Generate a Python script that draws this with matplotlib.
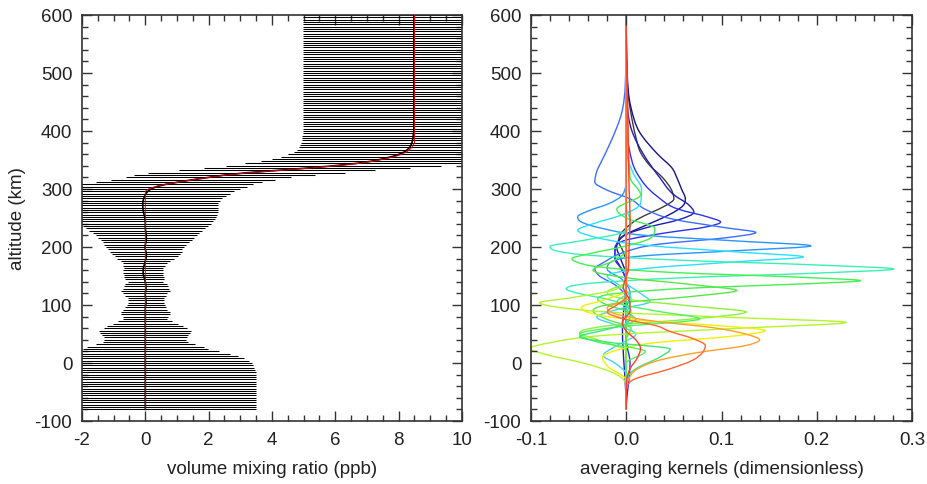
import numpy as np
import matplotlib
matplotlib.use("Agg")
import matplotlib.pyplot as plt
from matplotlib.path import Path
from matplotlib.patches import PathPatch
from matplotlib.ticker import MultipleLocator, FormatStrFormatter

# ---------------- data: left panel (retrieved profile with error bars) ----------------
altitude = np.arange(-80, 601, 4)  # km, retrieval grid

vmr = ([0.0] * 45 +
       [0.01, 0.02, 0.02, 0.01, 0.0, 0.0, 0.01, 0.02, 0.02, 0.01,
        0.0, -0.02, -0.04, -0.06, -0.07, -0.07, -0.06, -0.04, -0.02, 0.0,
        0.02, 0.03, 0.03, 0.02, 0.0, -0.01, 0.0, 0.02, 0.03, 0.03,
        0.03, 0.02, 0.01, 0.0, 0.0, 0.0, 0.0, -0.01, -0.02, -0.04,
        -0.06, -0.07, -0.08, -0.08, -0.08, -0.07, -0.05, -0.02, 0.02, 0.08,
        0.18, 0.35, 0.65, 1.05, 1.5, 2.0, 2.5, 3.2, 4.15, 5.1,
        5.95, 6.65, 7.15, 7.5, 7.8, 8.02, 8.18, 8.28, 8.35, 8.39,
        8.42, 8.44, 8.45, 8.46, 8.47] +
       [8.48] * 51)

vmr_err = ([3.5] * 17 +
           [3.47, 3.44, 3.41, 3.37, 3.28, 3.12, 2.92, 2.68, 2.32, 1.98,
            1.85, 1.56, 1.35, 1.30, 1.32, 1.36, 1.42, 1.45, 1.32, 1.20,
            1.03, 0.85, 0.70, 0.72, 0.77, 0.77, 0.70, 0.64, 0.60, 0.58,
            0.56, 0.57, 0.64, 0.70, 0.77, 0.74, 0.70, 0.66, 0.56, 0.62,
            0.62, 0.61, 0.62, 0.63, 0.62, 0.65, 0.70, 0.78, 0.90, 1.00,
            1.08, 1.13, 1.17, 1.22, 1.29, 1.36, 1.43, 1.51, 1.59, 1.68,
            1.78, 1.88, 1.98, 2.06, 2.13, 2.20, 2.26, 2.31, 2.34, 2.35,
            2.36, 2.37, 2.38, 2.42, 2.48, 2.56, 2.64, 2.73, 2.80, 2.85,
            2.75, 2.62, 2.58, 2.60, 2.85, 3.10, 3.10, 3.25, 3.40, 3.50] +
           [3.5] * 64)

true_alt = [-80, 296, 300, 304, 308, 312, 316, 320, 324, 328, 332, 336, 340,
            344, 348, 352, 356, 360, 364, 368, 372, 376, 380, 600]
true_vmr = [0.0, 0.0, 0.1, 0.3, 0.62, 1.05, 1.5, 2.0, 2.55, 3.25, 4.2, 5.15, 6.0,
            6.7, 7.2, 7.58, 7.88, 8.1, 8.25, 8.35, 8.42, 8.46, 8.5, 8.5]

# ---------------- data: right panel (averaging kernels) ----------------
kernel_colors = ["#3c3c3c", "#14148c", "#1e1eb9", "#2d32f0", "#3c6eff", "#2896ff",
                 "#28e1ff", "#46d2ff", "#3cf0b4", "#46f050", "#5ae646", "#8cf03c",
                 "#b4f528", "#f0f000", "#50f064", "#3ce678", "#ffa028", "#ff6432",
                 "#ff3c28"]

kernel_alts = [
    [-80, 170, 195, 210, 222, 236, 248, 260, 272, 283, 300, 320, 340, 363, 390, 430, 480, 600],
    [-80, 150, 180, 200, 220, 237, 250, 262, 272, 283, 300, 320, 334, 360, 398, 440, 500, 600],
    [-80, 60, 140, 165, 185, 205, 222, 235, 247, 260, 272, 290, 320, 360, 400, 450, 600],
    [-80, 0, 40, 130, 160, 180, 198, 212, 224, 235, 243, 252, 265, 288, 328, 370, 420, 600],
    [-80, 110, 135, 150, 162, 175, 190, 205, 216, 225, 233, 248, 265, 283, 298, 312, 330, 351, 386, 430, 480, 600],
    [-80, 90, 120, 145, 162, 175, 185, 194, 202, 210, 220, 232, 244, 252, 262, 275, 290, 320, 600],
    [-80, 80, 110, 135, 150, 163, 175, 183, 191, 203, 218, 229, 240, 255, 275, 300, 325, 360, 600],
    [-80, -20, 0, 13, 30, 50, 65, 79, 92, 106, 120, 140, 170, 600],
    [-80, 60, 90, 110, 120, 128, 137, 147, 155, 162, 169, 177, 186, 194, 201, 210, 222, 240, 270, 600],
    [-80, 60, 85, 100, 110, 120, 130, 136, 142, 148, 156, 166, 174, 180, 188, 200, 215, 232, 250, 265, 290, 320, 600],
    [-80, 40, 60, 75, 90, 103, 115, 125, 135, 147, 160, 175, 195, 600],
    [-80, 20, 40, 52, 64, 76, 88, 98, 110, 122, 140, 600],
    [-80, -40, -20, 0, 15, 25, 35, 48, 60, 70, 78, 88, 97, 104, 112, 125, 145, 600],
    [-80, -30, -5, 10, 22, 35, 46, 56, 64, 74, 85, 96, 108, 125, 600],
    [-80, 0, 20, 36, 50, 62, 76, 90, 105, 120, 600],
    [-80, -30, -10, 10, 24, 36, 45, 58, 75, 90, 600],
    [-80, -50, -30, -10, 5, 18, 30, 40, 50, 60, 73, 85, 95, 110, 600],
    [-80, -50, -30, -10, 5, 18, 30, 42, 55, 64, 75, 88, 100, 115, 600],
    [-80, -40, -10, 10, 25, 40, 55, 70, 90, 110, 130, 160, 200, 250, 300, 400, 600],
]

kernel_vals = [
    [0, 0, -0.004, -0.008, -0.006, 0.002, 0.012, 0.027, 0.042, 0.05, 0.047, 0.038, 0.025, 0.015, 0.01, 0.005, 0.001, 0],
    [0, 0, -0.006, -0.01, -0.002, 0.02, 0.038, 0.052, 0.06, 0.062, 0.058, 0.053, 0.049, 0.033, 0.014, 0.005, 0.001, 0],
    [0, -0.004, 0, -0.006, -0.012, -0.01, 0.0, 0.025, 0.055, 0.071, 0.066, 0.05, 0.035, 0.018, 0.006, 0.001, 0],
    [0, 0.004, 0, 0, -0.004, -0.012, -0.012, 0.0, 0.04, 0.085, 0.099, 0.085, 0.055, 0.032, 0.011, 0.003, 0.0, 0],
    [0, 0, -0.012, -0.028, -0.033, -0.022, -0.004, 0.035, 0.105, 0.136, 0.105, 0.049, 0.02, 0.004, -0.02, -0.033, -0.031, -0.025, -0.015, -0.005, -0.001, 0],
    [0, 0, 0.004, -0.005, -0.02, -0.015, 0.02, 0.12, 0.194, 0.12, 0.02, -0.025, -0.048, -0.051, -0.04, -0.018, -0.004, 0.0, 0],
    [0, 0, 0.005, -0.008, -0.02, 0.02, 0.12, 0.186, 0.12, 0.02, -0.035, -0.051, -0.035, -0.005, 0.015, 0.016, 0.008, 0.001, 0],
    [0, 0, -0.012, -0.024, -0.01, 0.01, -0.01, -0.031, -0.01, 0.025, 0.015, 0.0, 0.0, 0],
    [0, 0, 0.005, -0.02, -0.05, -0.063, -0.04, 0.06, 0.2, 0.281, 0.2, 0.06, -0.04, -0.075, -0.08, -0.05, -0.01, 0.005, 0.0, 0],
    [0, 0, 0.005, -0.02, -0.03, -0.01, 0.08, 0.18, 0.246, 0.18, 0.05, -0.03, -0.052, -0.057, -0.04, -0.005, 0.025, 0.03, 0.0, -0.01, 0.015, 0.004, 0],
    [0, 0, 0.005, -0.02, -0.035, -0.01, 0.07, 0.116, 0.07, 0.0, -0.035, -0.015, 0.0, 0],
    [0, 0, -0.03, -0.049, -0.02, 0.07, 0.126, 0.07, 0.0, -0.02, 0.0, 0],
    [0, 0, -0.01, -0.045, -0.085, -0.101, -0.08, -0.02, 0.12, 0.231, 0.12, -0.02, -0.075, -0.091, -0.06, -0.015, 0.0, 0],
    [0, 0, -0.02, -0.025, -0.01, 0.03, 0.11, 0.146, 0.1, 0.01, -0.035, -0.047, -0.025, 0.0, 0],
    [0, 0, 0.02, -0.03, -0.049, -0.01, 0.077, 0.03, -0.01, 0.0, 0],
    [0, 0, 0.01, 0.035, 0.046, -0.02, -0.049, -0.02, 0.01, 0.0, 0],
    [0, 0, 0.002, 0.012, 0.035, 0.075, 0.125, 0.14, 0.125, 0.095, 0.025, -0.012, -0.02, 0.0, 0],
    [0, 0, 0.006, 0.046, 0.07, 0.08, 0.083, 0.07, 0.045, 0.032, 0.0, -0.02, -0.01, 0.0, 0],
    [0, 0, 0.004, 0.012, 0.015, 0.01, 0.0, -0.004, 0.004, 0.003, -0.003, 0.002, 0.003, 0.004, 0.003, 0.002, 0],
]


def kernel_path(alts, vals):
    """Smooth path through the read-off nodes (cubic Hermite segments as Bezier curves)."""
    y = np.asarray(alts, float)
    x = np.asarray(vals, float)
    n = len(y)
    d = np.diff(x) / np.diff(y)
    m = np.zeros(n)
    for i in range(1, n - 1):
        if d[i - 1] * d[i] > 0:
            h0 = y[i] - y[i - 1]
            h1 = y[i + 1] - y[i]
            s = (d[i - 1] * h1 + d[i] * h0) / (h0 + h1)
            lim = 3 * min(abs(d[i - 1]), abs(d[i]))
            m[i] = np.sign(s) * min(abs(s), lim)
    verts = [(x[0], y[0])]
    codes = [Path.MOVETO]
    for i in range(n - 1):
        h = y[i + 1] - y[i]
        verts += [(x[i] + m[i] * h / 3, y[i] + h / 3),
                  (x[i + 1] - m[i + 1] * h / 3, y[i + 1] - h / 3),
                  (x[i + 1], y[i + 1])]
        codes += [Path.CURVE4] * 3
    return Path(verts, codes)


# ---------------- figure ----------------
plt.rcParams['font.family'] = ['Liberation Sans', 'DejaVu Sans']
plt.rcParams['axes.unicode_minus'] = False
txt = "#222222"
fs = 13.5

fig = plt.figure(figsize=(9.27, 4.85), dpi=100)
ax1 = fig.add_axes([82 / 927, 63 / 485, 380 / 927, 406 / 485])
ax2 = fig.add_axes([531 / 927, 63 / 485, 381 / 927, 406 / 485])

vmr_a = np.array(vmr)
err_a = np.array(vmr_err)
ax1.hlines(altitude, vmr_a - err_a, vmr_a + err_a, color="black", lw=0.75)
ax1.plot(vmr_a, altitude, color="black", lw=1.2, zorder=3)
ax1.plot(true_vmr, true_alt, color="#e00000", lw=0.7, zorder=4)
ax1.set_xlim(-2, 10)
ax1.set_ylim(-100, 600)
ax1.xaxis.set_major_locator(MultipleLocator(2))
ax1.xaxis.set_minor_locator(MultipleLocator(0.5))
ax1.set_xlabel("volume mixing ratio (ppb)", fontsize=fs, color=txt, labelpad=9)
ax1.set_ylabel("altitude (km)", fontsize=fs, color=txt, labelpad=6)

for a, v, c in zip(kernel_alts, kernel_vals, kernel_colors):
    ax2.add_patch(PathPatch(kernel_path(a, v), facecolor="none", edgecolor=c, lw=1.0))
ax2.set_xlim(-0.1, 0.3)
ax2.set_ylim(-100, 600)
ax2.xaxis.set_major_locator(MultipleLocator(0.1))
ax2.xaxis.set_minor_locator(MultipleLocator(0.02))
ax2.xaxis.set_major_formatter(FormatStrFormatter("%.1f"))
ax2.set_xlabel("averaging kernels (dimensionless)", fontsize=fs, color=txt, labelpad=9)

for ax in (ax1, ax2):
    ax.yaxis.set_major_locator(MultipleLocator(100))
    ax.yaxis.set_minor_locator(MultipleLocator(20))
    ax.tick_params(which="both", direction="in", top=True, right=True,
                   labelsize=fs, labelcolor=txt, color="#333333")
    ax.tick_params(which="major", length=7, width=1.0, pad=7)
    ax.tick_params(which="minor", length=4, width=1.0)
    for s in ax.spines.values():
        s.set_linewidth(1.2)
        s.set_color("#333333")

fig.savefig("out.png", dpi=100)
